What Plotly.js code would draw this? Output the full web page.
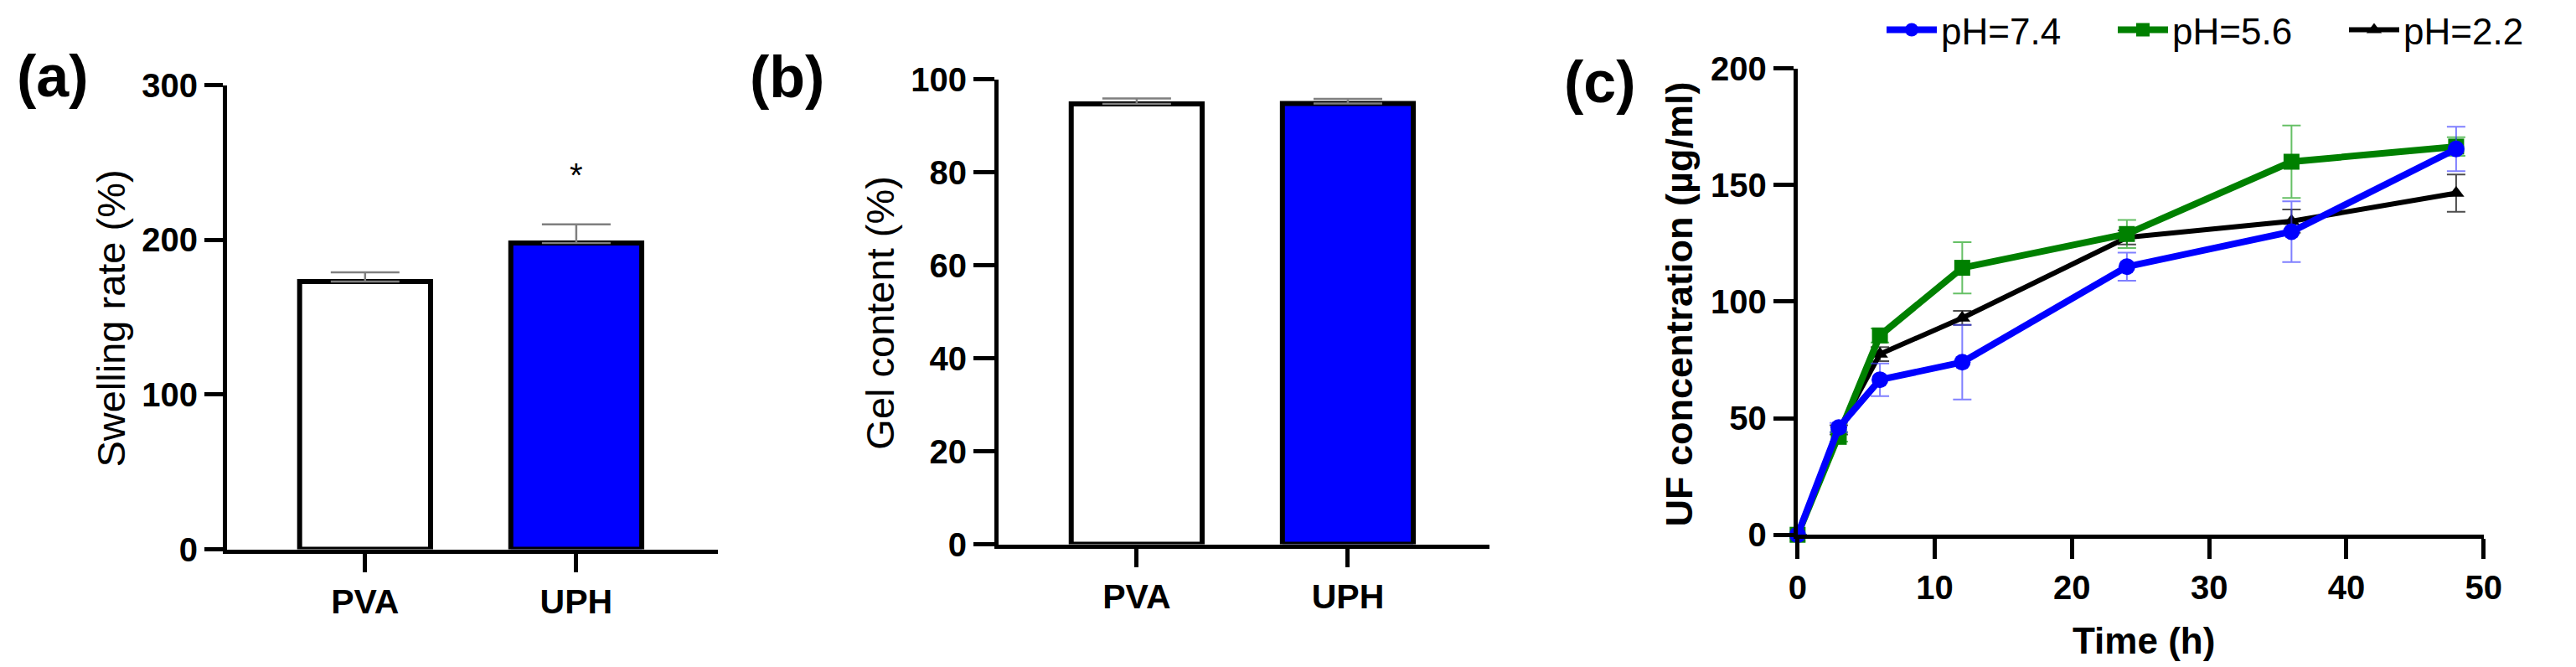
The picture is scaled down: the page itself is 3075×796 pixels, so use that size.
<!DOCTYPE html>
<html>
<head>
<meta charset="utf-8">
<script src="https://cdn.plot.ly/plotly-3.0.1.min.js"></script>
<style>
  html, body { margin: 0; padding: 0; background: #fff; }
  #chart { width: 3075px; height: 796px; }
</style>
</head>
<body>
<div id="chart"></div>
<script>
// panel (a) and (b): bar data
const groups = ['PVA', 'UPH'];
const barFill = ['#ffffff', '#0000ff'];
const swelling = [173, 198];
const swellingErr = [6, 12];
const gelContent = [94.7, 94.8];
const gelErr = [1.2, 1.0];

// panel (c): release over time
const timeH = [0, 3, 6, 12, 24, 36, 48];
const ph74 = [0, 46, 66.5, 74, 115, 130, 165.5];
const ph74Err = [0, 2, 7, 16, 6, 13, 9.5];
const ph56 = [0, 42, 85.5, 114.5, 129, 160, 166.5];
const ph56Err = [0, 2, 3, 11, 6, 15.5, 4];
const ph22 = [0, 45, 77.5, 93, 127.5, 134.5, 146.5];
const ph22Err = [0, 2, 3, 3, 3, 5, 8];

const W = 3075, H = 796;
const FONT = 'Liberation Sans, Arial, sans-serif';
const px = v => v / W;
const py = v => 1 - v / H;

function barTrace(y, err, xa, ya) {
    return {
        type: 'bar',
        x: groups,
        y: y,
        xaxis: xa,
        yaxis: ya,
        width: 0.62,
        marker: {color: barFill, line: {color: '#000', width: 6}},
        error_y: {
            type: 'data', symmetric: false, array: err, arrayminus: [0, 0],
            color: '#7f7f7f', thickness: 2.5, width: 41
        },
        showlegend: false,
        hoverinfo: 'skip'
    };
}

function lineTrace(y, err, name, rank, color, errColor, symbol, size, lw) {
    return {
        type: 'scatter',
        mode: 'lines+markers',
        x: timeH,
        y: y,
        name: name,
        legendrank: rank,
        xaxis: 'x3',
        yaxis: 'y3',
        cliponaxis: false,
        line: {color: color, width: lw},
        marker: {color: color, symbol: symbol, size: size},
        error_y: {type: 'data', array: err, color: errColor, thickness: 2, width: 11}
    };
}

// drawing order black, green, blue (blue on top); legendrank keeps the legend order
const traces = [
    barTrace(swelling, swellingErr, 'x', 'y'),
    barTrace(gelContent, gelErr, 'x2', 'y2'),
    lineTrace(ph22, ph22Err, 'pH=2.2', 3, '#000000', 'rgba(0,0,0,0.7)', 'triangle-up', 17, 6),
    lineTrace(ph56, ph56Err, 'pH=5.6', 2, '#008000', 'rgba(0,150,0,0.6)', 'square', 19, 8),
    lineTrace(ph74, ph74Err, 'pH=7.4', 1, '#0000ff', 'rgba(60,60,255,0.65)', 'circle', 20, 8)
];

const tickBold = {family: FONT, size: 40, color: '#000', weight: 'bold'};

function axisBase(extra) {
    return Object.assign({
        showline: true, linecolor: '#000', linewidth: 5,
        ticks: 'outside', ticklen: 22, tickwidth: 5, tickcolor: '#000',
        showgrid: false, zeroline: false, fixedrange: true,
        tickfont: tickBold
    }, extra);
}

const panelFont = {family: FONT, size: 70, color: '#000', weight: 'bold'};
const titleFont = {family: FONT, size: 47, color: '#000'};
const barRange = [-0.654, 1.669];

const layout = {
    width: W,
    height: H,
    margin: {l: 0, r: 0, t: 0, b: 0},
    paper_bgcolor: '#fff',
    plot_bgcolor: 'rgba(0,0,0,0)',
    font: {family: FONT, color: '#000'},
    bargap: 0,
    xaxis: axisBase({domain: [px(273), px(863)], anchor: 'y', range: barRange, type: 'category',
        tickfont: Object.assign({}, tickBold, {size: 41})}),
    yaxis: axisBase({domain: [py(655), py(99)], anchor: 'x', range: [0, 300], tickvals: [0, 100, 200, 300]}),
    xaxis2: axisBase({domain: [px(1201), px(1791)], anchor: 'y2', range: barRange, type: 'category',
        tickfont: Object.assign({}, tickBold, {size: 41})}),
    yaxis2: axisBase({domain: [py(649), py(92)], anchor: 'x2', range: [0, 100],
        tickvals: [0, 20, 40, 60, 80, 100], ticklen: 25}),
    xaxis3: axisBase({domain: [px(2162), px(2987)], anchor: 'y3', range: [0, 50],
        tickvals: [0, 10, 20, 30, 40, 50], ticklen: 24}),
    yaxis3: axisBase({domain: [py(637.6), py(79)], anchor: 'x3', range: [0, 200],
        tickvals: [0, 50, 100, 150, 200], ticklen: 24}),
    legend: {
        orientation: 'h', x: px(2264), xanchor: 'left', y: py(33), yanchor: 'middle',
        font: {family: FONT, size: 44, color: '#000'},
        bgcolor: 'rgba(0,0,0,0)', itemwidth: 60, entrywidth: 201,
        traceorder: 'normal'
    },
    annotations: [
        {text: '(a)', x: px(63), y: py(88), font: panelFont},
        {text: '(b)', x: px(947), y: py(89), font: panelFont},
        {text: '(c)', x: px(1924), y: py(95), font: panelFont},
        {text: 'Swelling rate (%)', x: px(134), y: py(378), textangle: -90, font: titleFont},
        {text: 'Gel content (%)', x: px(1059), y: py(372), textangle: -90, font: titleFont},
        {text: 'UF concentration (µg/ml)', x: px(2020), y: py(361), textangle: -90,
         font: {family: FONT, size: 45, color: '#000', weight: 'bold'}},
        {text: 'Time (h)', x: px(2578), y: py(764),
         font: {family: FONT, size: 44, color: '#000', weight: 'bold'}},
        {text: '*', x: 'UPH', y: 242, xref: 'x', yref: 'y',
         font: {family: FONT, size: 40, color: '#000'}}
    ].map(a => Object.assign({xref: 'paper', yref: 'paper', showarrow: false,
                              xanchor: 'center', yanchor: 'middle'}, a))
};

Plotly.newPlot('chart', traces, layout, {staticPlot: true});
</script>
</body>
</html>
